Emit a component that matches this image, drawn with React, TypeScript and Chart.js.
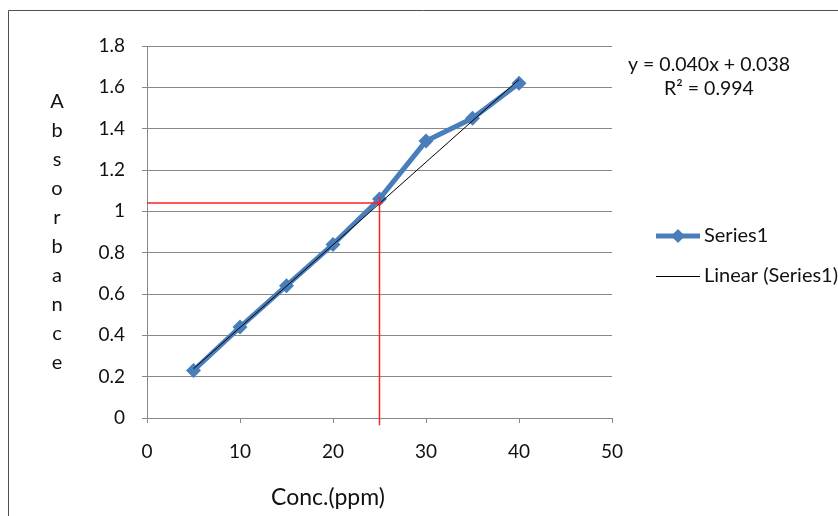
import React, { useEffect, useRef } from "react";
import { Chart, registerables } from "chart.js";

Chart.register(...registerables);

// ---- data ----
const concentrations = [5, 10, 15, 20, 25, 30, 35, 40];
const absorbance = [0.23, 0.44, 0.64, 0.84, 1.06, 1.34, 1.45, 1.62];
const trendX = [5, 40];
const trendY = [0.238, 1.638];
const guideHX = [0, 25.3];
const guideHY = [1.04, 1.04];
const guideVX = [25, 25];
const guideVY = [-0.035, 1.07];
const xTickValues = [0, 10, 20, 30, 40, 50];
const yTickValues = [0, 0.2, 0.4, 0.6, 0.8, 1, 1.2, 1.4, 1.6, 1.8];
const equationLines = ["y = 0.040x + 0.038", "R² = 0.994"];
const legendLabels = ["Series1", "Linear (Series1)"];
const xTitle = "Conc.(ppm)";
const yTitle = "Absorbance";

const FONT = "Lato";
const BLUE = "#4A7EBB";
const GRID = "#888888";
const TEXT = "#111111";

const toPoints = (xs: number[], ys: number[]) => xs.map((x, i) => ({ x, y: ys[i] }));

const decorPlugin = {
  id: "decor",
  beforeDraw(chart: any) {
    const { ctx, width, height } = chart;
    ctx.save();
    ctx.fillStyle = "#ffffff";
    ctx.fillRect(0, 0, width, height);
    ctx.strokeStyle = "#505050";
    ctx.lineWidth = 1;
    ctx.beginPath();
    ctx.moveTo(8.5, height);
    ctx.lineTo(8.5, 10.5);
    ctx.lineTo(width, 10.5);
    ctx.stroke();
    ctx.restore();
  },
  afterDraw(chart: any) {
    const { ctx, chartArea } = chart;
    ctx.save();
    ctx.fillStyle = TEXT;
    // y title: stacked letters
    ctx.font = `20px ${FONT}`;
    ctx.textAlign = "center";
    ctx.textBaseline = "middle";
    yTitle.split("").forEach((ch, i) => {
      ctx.fillText(ch, 57, 102 + i * 29);
    });
    // x title
    ctx.font = `23px ${FONT}`;
    ctx.fillText(xTitle, 328, 498);
    // equation
    ctx.font = `19.5px ${FONT}`;
    ctx.fillText(equationLines[0], 709, 65);
    ctx.fillText(equationLines[1], 709, 89);
    // legend
    const lx0 = chartArea.right + 44;
    const ly = [236, 276];
    ctx.strokeStyle = BLUE;
    ctx.lineWidth = 5;
    ctx.beginPath();
    ctx.moveTo(lx0, ly[0]);
    ctx.lineTo(lx0 + 44, ly[0]);
    ctx.stroke();
    ctx.fillStyle = BLUE;
    ctx.beginPath();
    const cx = lx0 + 22;
    const r = 7;
    ctx.moveTo(cx, ly[0] - r);
    ctx.lineTo(cx + r, ly[0]);
    ctx.lineTo(cx, ly[0] + r);
    ctx.lineTo(cx - r, ly[0]);
    ctx.closePath();
    ctx.fill();
    ctx.strokeStyle = "#000000";
    ctx.lineWidth = 1;
    ctx.beginPath();
    ctx.moveTo(lx0, ly[1] + 0.5);
    ctx.lineTo(lx0 + 44, ly[1] + 0.5);
    ctx.stroke();
    ctx.fillStyle = TEXT;
    ctx.font = `20px ${FONT}`;
    ctx.textAlign = "left";
    legendLabels.forEach((t, i) => ctx.fillText(t, lx0 + 48, ly[i]));
    ctx.restore();
  },
};

export default function App() {
  const ref = useRef<HTMLCanvasElement | null>(null);
  useEffect(() => {
    if (!ref.current) return;
    const chart = new Chart(ref.current, {
      type: "line",
      data: {
        datasets: [
          {
            label: "guideH",
            data: toPoints(guideHX, guideHY),
            borderColor: "#ff2020",
            borderWidth: 1.5,
            pointRadius: 0,
            order: 1,
            clip: false as any,
          },
          {
            label: "guideV",
            data: toPoints(guideVX, guideVY),
            borderColor: "#ff2020",
            borderWidth: 1.5,
            pointRadius: 0,
            order: 1,
            clip: false as any,
          },
          {
            label: legendLabels[1],
            data: toPoints(trendX, trendY),
            borderColor: "#000000",
            borderWidth: 1,
            pointRadius: 0,
            order: 2,
          },
          {
            label: legendLabels[0],
            data: toPoints(concentrations, absorbance),
            borderColor: BLUE,
            backgroundColor: BLUE,
            borderWidth: 5,
            pointStyle: "rectRot",
            pointRadius: 7.5,
            pointBorderWidth: 0,
            order: 3,
          },
        ],
      },
      options: {
        animation: false,
        responsive: false,
        layout: { padding: { left: 0, top: 46, right: 226, bottom: 0 } },
        plugins: { legend: { display: false }, tooltip: { enabled: false } },
        scales: {
          x: {
            type: "linear",
            min: 0,
            max: 50,
            afterFit: (s: any) => {
              s.height = 98;
            },
            afterBuildTicks: (s: any) => {
              s.ticks = xTickValues.map((v) => ({ value: v }));
            },
            ticks: {
              color: TEXT,
              font: { family: FONT, size: 19 },
              padding: 17,
              maxRotation: 0,
              callback: (v: any) => String(v),
            },
            grid: { drawOnChartArea: false, color: GRID, tickLength: 5 },
            border: { color: GRID, width: 1 },
          },
          y: {
            type: "linear",
            min: 0,
            max: 1.8,
            afterFit: (s: any) => {
              s.width = 147;
            },
            afterBuildTicks: (s: any) => {
              s.ticks = yTickValues.map((v) => ({ value: v }));
            },
            ticks: {
              color: TEXT,
              font: { family: FONT, size: 19 },
              padding: 17,
              callback: (v: any) => String(Number(Number(v).toFixed(1))),
            },
            grid: { color: GRID, tickLength: 5 },
            border: { color: GRID, width: 1 },
          },
        },
      },
      plugins: [decorPlugin],
    });
    return () => chart.destroy();
  }, []);
  return (
    <div style={{ position: "fixed", left: 0, top: 0, width: 838, height: 516 }}>
      <canvas ref={ref} width={838} height={516} style={{ display: "block" }} />
    </div>
  );
}
